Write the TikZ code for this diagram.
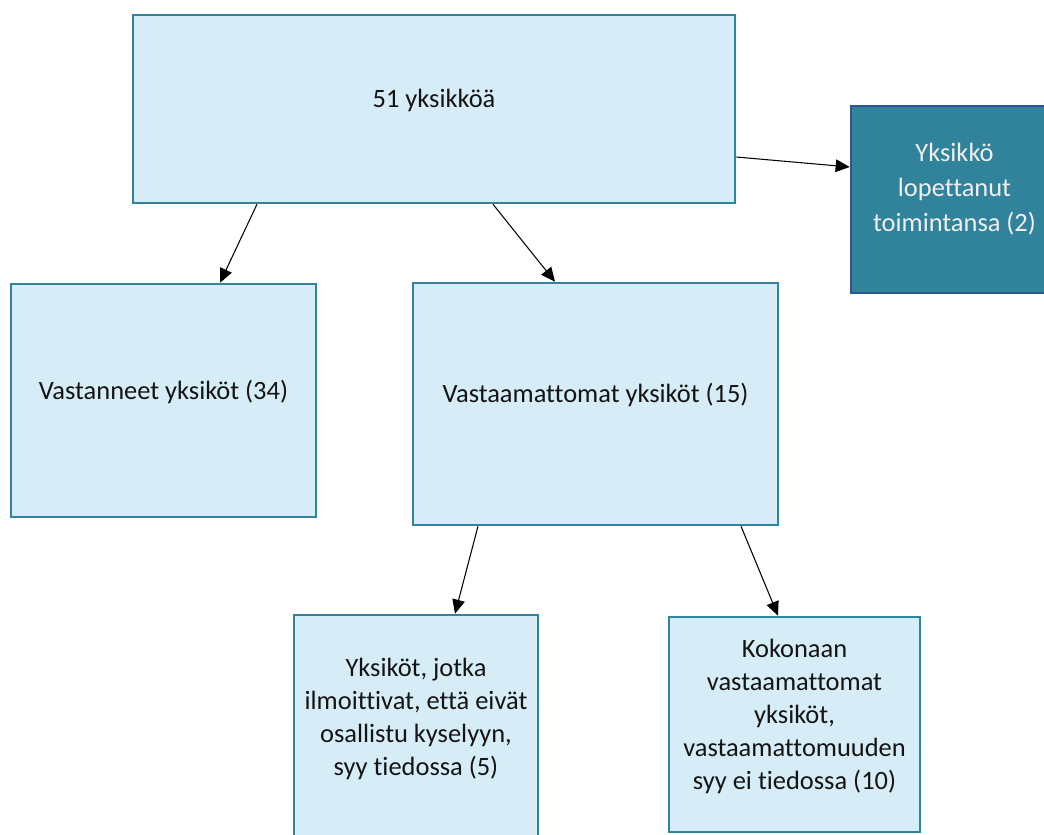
\documentclass[tikz,border=0pt]{standalone}
\usepackage{fontspec}
\setmainfont{Carlito}[Ligatures=NoCommon]
\usepackage{tikz}
\usetikzlibrary{arrows.meta}

\definecolor{boxfill}{RGB}{214,236,246}
\definecolor{boxline}{RGB}{49,132,155}
\definecolor{darkfill}{RGB}{49,130,155}
\definecolor{darkline}{RGB}{47,85,151}
\definecolor{txtcol}{RGB}{20,20,20}

\tikzset{
  box/.style={draw=boxline, fill=boxfill, line width=1.8pt, inner sep=0pt},
  darkbox/.style={draw=darkline, fill=darkfill, line width=1.8pt, inner sep=0pt},
  lbl/.style={align=center, text=txtcol, font=\fontsize{18.8}{23.5}\selectfont},
  darklbl/.style={lbl, text=white!94!black, font=\fontsize{18.8}{24.8}\selectfont},
  arr/.style={-{Triangle[length=10pt,width=9pt]}, line width=0.75pt}
}

\begin{document}
\begin{tikzpicture}[x=0.025cm,y=-0.025cm]
  \clip (0,0) rectangle (1044,834);
  \fill[white] (0,0) rectangle (1044,834);

  % boxes
  \node[box, minimum width=15.05cm, minimum height=4.7cm] (all) at (434,109) {};
  \node[darkbox, minimum width=5.175cm, minimum height=4.675cm] (closed) at (954.5,199.5) {};
  \node[box, minimum width=7.625cm, minimum height=5.825cm] (resp) at (163.5,400.5) {};
  \node[box, minimum width=9.125cm, minimum height=6.05cm] (nonresp) at (595.5,404) {};
  \node[box, minimum width=6.1cm, minimum height=5.65cm] (known) at (416,728) {};
  \node[box, minimum width=6.275cm, minimum height=5.375cm] (unknown) at (794.5,724.5) {};

  % texts
  \node[lbl] (all-t) at ([yshift=0.225cm]all.center) {51 yksikköä};
  \node[darklbl] (closed-t) at ([yshift=0.25cm]closed.center) {Yksikkö\\lopettanut\\toimintansa (2)};
  \node[lbl] (resp-t) at ([yshift=0.225cm]resp.center) {Vastanneet yksiköt (34)};
  \node[lbl] (nonresp-t) at ([yshift=0.225cm]nonresp.center) {Vastaamattomat yksiköt (15)};
  \node[lbl] (known-t) at ([yshift=0.225cm]known.center)
    {Yksiköt, jotka\\ilmoittivat, että eivät\\osallistu kyselyyn,\\syy tiedossa (5)};
  \node[lbl] (unknown-t) at ([yshift=0.2cm]unknown.center)
    {Kokonaan\\vastaamattomat\\yksiköt,\\vastaamattomuuden\\syy ei tiedossa (10)};

  % arrows
  \draw[arr] ([xshift=-4.425cm]all.south) -- ([xshift=1.4125cm]resp.north);
  \draw[arr] ([xshift=1.475cm]all.south) -- ([xshift=-1.0125cm]nonresp.north);
  \draw[arr] ([yshift=-1.2cm]all.east) -- ([yshift=0.8125cm]closed.west);
  \draw[arr] ([xshift=-2.9375cm]nonresp.south) -- ([xshift=0.975cm]known.north);
  \draw[arr] ([xshift=3.6375cm]nonresp.south) -- ([xshift=-0.4125cm]unknown.north);
\end{tikzpicture}
\end{document}
